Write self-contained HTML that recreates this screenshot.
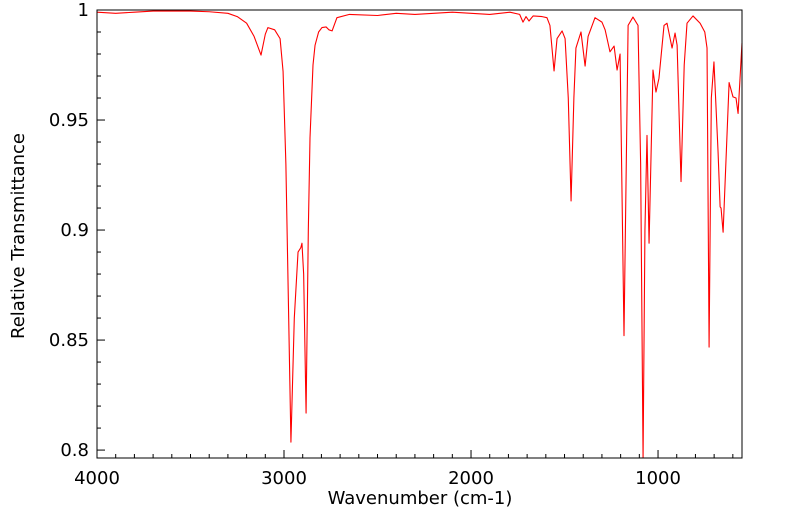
<!DOCTYPE html>
<html><head><meta charset="utf-8"><style>
html,body{margin:0;padding:0;background:#fff;}
svg{display:block;font-family:"DejaVu Sans","Liberation Sans",sans-serif;}
</style></head><body>
<svg id="chart" width="799" height="516" viewBox="0 0 799 516">
<rect x="0" y="0" width="799" height="516" fill="#fff"/>
<g id="ticks"></g>
<g id="labels"></g>
<path id="spectrum" fill="none" stroke="#ff0000" stroke-width="1.1" stroke-linejoin="round"/>
<rect x="97" y="10" width="645" height="448" fill="none" stroke="#000" stroke-width="1"/>
<text x="420" y="504" font-size="18" text-anchor="middle">Wavenumber (cm-1)</text>
<text transform="translate(24,236) rotate(-90)" font-size="18" text-anchor="middle">Relative Transmittance</text>
</svg>
<script>
const wavenumbers = [4000,3900,3800,3700,3600,3500,3400,3300,3250,3200,3160,3123,3100,3086,3050,3021,3005,2990,2975,2963,2945,2925,2910,2904,2895,2882,2870,2861,2845,2834,2815,2797,2775,2760,2743,2717,2650,2500,2400,2300,2100,1900,1792,1740,1722,1706,1690,1668,1620,1594,1578,1556,1540,1513,1497,1480,1465,1450,1439,1412,1390,1374,1337,1300,1283,1257,1235,1219,1203,1182,1160,1134,1107,1093,1080,1070,1059,1048,1027,1011,995,968,952,925,909,898,877,860,845,813,775,750,738,727,715,701,679,668,663,652,620,599,583,572,551];
const transmittance = [0.999,0.9985,0.999,0.9995,0.9995,0.9995,0.9992,0.9985,0.997,0.994,0.988,0.9795,0.989,0.992,0.991,0.987,0.972,0.93,0.86,0.8036,0.86,0.89,0.892,0.894,0.88,0.8168,0.9,0.942,0.975,0.984,0.99,0.992,0.9923,0.991,0.9905,0.9965,0.998,0.9975,0.9985,0.998,0.999,0.998,0.999,0.998,0.9945,0.997,0.995,0.9973,0.997,0.9965,0.993,0.9723,0.987,0.9905,0.987,0.96,0.9132,0.96,0.9827,0.99,0.9745,0.988,0.9965,0.9945,0.991,0.981,0.9836,0.9727,0.98,0.852,0.993,0.9968,0.993,0.93,0.785,0.9,0.943,0.894,0.9727,0.9627,0.969,0.993,0.994,0.9827,0.9895,0.984,0.922,0.975,0.994,0.9973,0.994,0.99,0.9827,0.8468,0.96,0.9764,0.9355,0.9105,0.91,0.899,0.967,0.9605,0.96,0.953,0.985];
const xTickValues = [4000,3000,2000,1000];
const xTickLabels = ["4000","3000","2000","1000"];
const yTickValues = [1,0.95,0.9,0.85,0.8];
const yTickLabels = ["1","0.95","0.9","0.85","0.8"];

const L=97,R=742,T=10,B=458;
const xMax=4000,xMin=551,yMax=1,yMin=0.7964;
function xs(v){return L+(xMax-v)/(xMax-xMin)*(R-L);}
function ys(v){return T+(yMax-v)/(yMax-yMin)*(B-T);}
const NS="http://www.w3.org/2000/svg";
const tg=document.getElementById('ticks'), lg=document.getElementById('labels');
function line(x1,y1,x2,y2,name){const l=document.createElementNS(NS,'line');
l.setAttribute('x1',x1);l.setAttribute('y1',y1);l.setAttribute('x2',x2);l.setAttribute('y2',y2);
l.setAttribute('stroke','#000');l.setAttribute('stroke-width','1');


tg.appendChild(l);}
for(let w=4000;w>=xMin;w-=100){const x=xs(w);const major=w%1000===0;line(x,B,x,B-(major?8:4),major?'x-major-tick':'x-minor-tick');}
for(let i=0;i<=20;i++){const v=0.8+i*0.01;const y=ys(v);const major=i%5===0;line(L,y,L+(major?8:4),y,major?'y-major-tick':'y-minor-tick');}
xTickValues.forEach((v,i)=>{const t=document.createElementNS(NS,'text');
t.setAttribute('x',xs(v));t.setAttribute('y',484);t.setAttribute('font-size','18');t.setAttribute('text-anchor','middle');
t.textContent=xTickLabels[i];


lg.appendChild(t);});
yTickValues.forEach((v,i)=>{const t=document.createElementNS(NS,'text');
t.setAttribute('x',89);t.setAttribute('y',ys(v)+6);t.setAttribute('font-size','18');t.setAttribute('text-anchor','end');
t.textContent=yTickLabels[i];


lg.appendChild(t);});
let d='';
wavenumbers.forEach((w,i)=>{const y=Math.min(ys(transmittance[i]),B);d+=(i?'L':'M')+xs(w).toFixed(2)+','+y.toFixed(2)+' ';});
document.getElementById('spectrum').setAttribute('d',d);
</script>
</body></html>
